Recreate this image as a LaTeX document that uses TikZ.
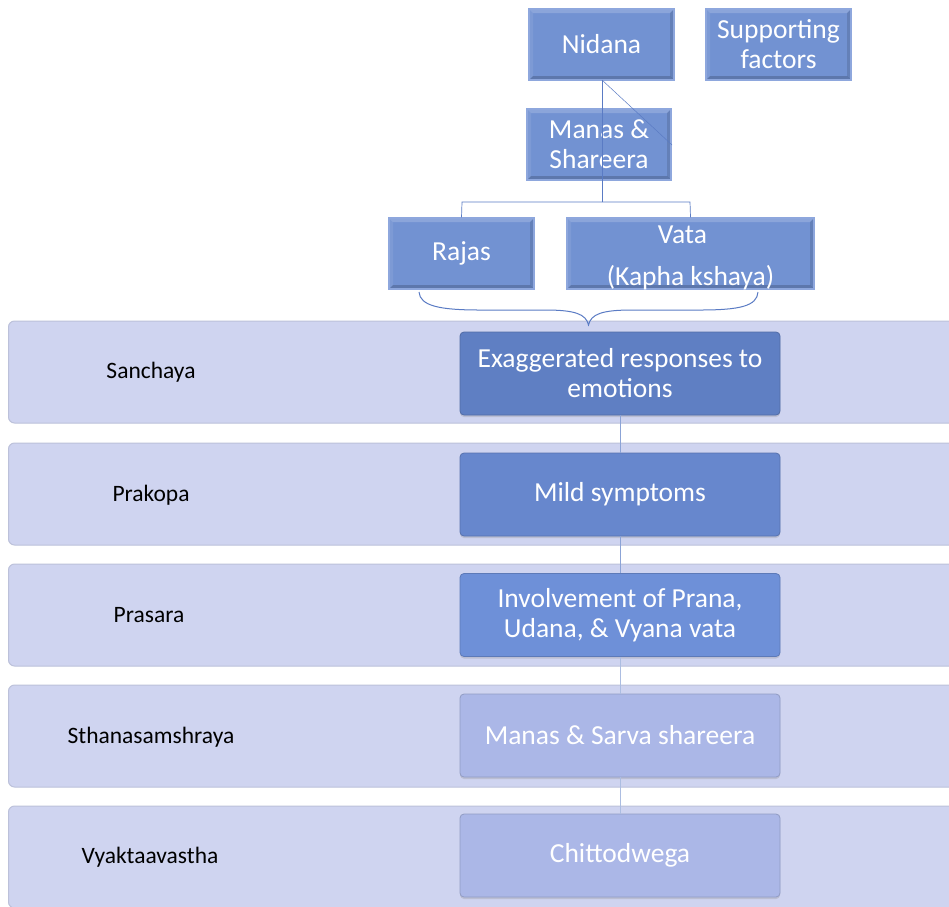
\documentclass[tikz,border=0pt]{standalone}
\usepackage{fontspec}
\setmainfont{Carlito}
\usetikzlibrary{positioning,calc,shadows}
\definecolor{topfill}{HTML}{7292D2}
\definecolor{topedge}{HTML}{8EA7DD}
\definecolor{bandfill}{HTML}{CFD4F0}
\definecolor{bandedge}{HTML}{BCC1DA}
\definecolor{darkA}{HTML}{5F7FC3}
\definecolor{darkB}{HTML}{6787CD}
\definecolor{darkC}{HTML}{6E90D8}
\definecolor{lightbox}{HTML}{ABB7E7}
\definecolor{linec}{HTML}{5A7BC4}
\tikzset{
  toptext/.style={text=white, font=\fontsize{27.5}{30}\selectfont, align=center, inner sep=0pt},
  topbox/.style={draw=topedge, line width=1.2pt, fill=topfill, toptext,
    path picture={
      \coordinate (bNW) at (path picture bounding box.north west);
      \coordinate (bNE) at (path picture bounding box.north east);
      \coordinate (bSW) at (path picture bounding box.south west);
      \coordinate (bSE) at (path picture bounding box.south east);
      \fill[white, opacity=0.18] (bNW) -- (bNE) -- ([xshift=-4pt,yshift=-4pt]bNE) -- ([xshift=4pt,yshift=-4pt]bNW) -- cycle;
      \fill[white, opacity=0.08] (bNW) -- (bSW) -- ([xshift=4pt,yshift=4pt]bSW) -- ([xshift=4pt,yshift=-4pt]bNW) -- cycle;
      \fill[black, opacity=0.12] (bNE) -- (bSE) -- ([xshift=-4pt,yshift=4pt]bSE) -- ([xshift=-4pt,yshift=-4pt]bNE) -- cycle;
      \fill[black, opacity=0.18] (bSW) -- (bSE) -- ([xshift=-4pt,yshift=4pt]bSE) -- ([xshift=4pt,yshift=4pt]bSW) -- cycle;
    }},
  bandbox/.style={draw=bandedge, line width=1pt, fill=bandfill, rounded corners=6pt, minimum height=102pt, inner sep=0pt},
  stagelbl/.style={text=black, font=\fontsize{23.5}{26}\selectfont, inner sep=0pt},
  stepbox/.style={draw=#1!85!black, line width=0.8pt, fill=#1, rounded corners=4pt, text=white, minimum width=320pt, minimum height=83pt, font=\fontsize{27.5}{30}\selectfont, align=center, inner sep=0pt, drop shadow={opacity=0.25, shadow xshift=0pt, shadow yshift=-2pt}},
  conn/.style={draw=linec, line width=0.7pt}
}
\begin{document}
\begin{tikzpicture}[x=1pt,y=-1pt]
\useasboundingbox (0,0) rectangle (949,906);
\clip (0,0) rectangle (949,906);
\fill[white] (0,0) rectangle (949,906);

% bands
\foreach \n/\y in {1/372,2/494,3/615,4/736,5/857}{
  \node[bandbox, minimum width=960pt, anchor=west] (band\n) at (8,\y) {};
}

% stage labels
\node[stagelbl] (l1) at (151,372) {Sanchaya};
\node[stagelbl] (l2) at (151,495) {Prakopa};
\node[stagelbl] (l3) at (149,615) {Prasara};
\node[stagelbl] (l4) at (151,737) {Sthanasamshraya};
\node[stagelbl] (l5) at (150,857) {Vyaktaavastha};

% top boxes
\node[topbox, minimum width=145pt, minimum height=71pt] (nid) at (601.5,44.5) {Nidana};
\node[topbox, minimum width=145pt, minimum height=71pt] (sup) at (778.5,44.5) {Supporting\\factors};
\node[topbox, minimum width=144pt, minimum height=71pt] (man) at (599,144.5) {Manas \&\\Shareera};
\node[topbox, minimum width=145pt, minimum height=71pt] (raj) at (461.5,253.5) {Rajas};
\node[topbox, minimum width=247pt, minimum height=71pt] (vat) at (690.5,253.5) {};
\node[toptext] (vattxt) at (690.5,257.5) {Vata\hspace*{16pt}\\[12pt](Kapha kshaya)};

% tree connectors (drawn over boxes as in reference)
\coordinate (nidb) at (602,80);
\coordinate (diagend) at (672,145);
\coordinate (fork) at (602,202);
\draw[conn] (nidb) -- (fork);
\draw[conn, line width=0.5pt] (nidb) -- (diagend);
\draw[conn] (fork) -- (462,202) -- (raj.north);
\draw[conn] (fork) -- (690,202) -- (vat.north);

% brace
\coordinate (brl) at (419,292);
\coordinate (brr) at (758,292);
\coordinate (brt) at (588.5,325);
\draw[conn, line width=1pt] (brl) .. controls (420,306) and (440,310) .. (480,310)
  -- (545,310) .. controls (575,310) and (586,314) .. (brt)
  .. controls (591,314) and (602,310) .. (632,310)
  -- (700,310) .. controls (740,310) and (757,306) .. (brr);

% step boxes
\node[stepbox=darkA] (s1) at (620,373.5) {Exaggerated responses to\\emotions};
\node[stepbox=darkB] (s2) at (620,494.5) {Mild symptoms};
\node[stepbox=darkC] (s3) at (620,615) {Involvement of Prana,\\Udana, \& Vyana vata};
\node[stepbox=lightbox] (s4) at (620,735.5) {Manas \& Sarva shareera};
\node[stepbox=lightbox] (s5) at (620,855.5) {Chittodwega};

\draw[conn, draw=linec!70!white] (s1.south) -- (s2.north);
\draw[conn, draw=linec!70!white] (s2.south) -- (s3.north);
\draw[conn, draw=linec!50!white] (s3.south) -- (s4.north);
\draw[conn, draw=linec!50!white] (s4.south) -- (s5.north);
\end{tikzpicture}
\end{document}
